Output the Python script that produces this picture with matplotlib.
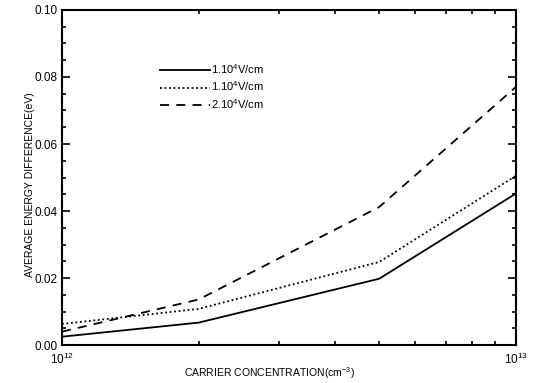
import numpy as np
import matplotlib.pyplot as plt
from matplotlib.ticker import FixedLocator, NullFormatter

plt.rcParams['font.family'] = ['Liberation Sans', 'DejaVu Sans']
plt.rcParams['mathtext.fontset'] = 'custom'
plt.rcParams['mathtext.rm'] = 'Liberation Sans'

# carrier concentration (cm^-3)
conc = [1e12, 2e12, 5e12, 1e13]
# average energy difference (eV) for three fields
e_solid = [0.0025, 0.0067, 0.0198, 0.0452]
e_dotted = [0.0063, 0.0108, 0.0248, 0.0505]
e_dashed = [0.0040, 0.0136, 0.0412, 0.0770]
labels = ["1.10$^4$V/cm", "1.10$^4$V/cm", "2.10$^4$V/cm"]

fig = plt.figure(figsize=(5.39, 3.83), dpi=100)
ax = fig.add_axes([0.115, 0.099, 0.842, 0.875])

ax.plot(conc, e_solid, color="black", lw=1.3, ls="-", label=labels[0])
ax.plot(conc, e_dotted, color="black", lw=1.3, ls=(0, (1, 1.5)), label=labels[1])
ax.plot(conc, e_dashed, color="black", lw=1.3, ls=(0, (5, 4)), label=labels[2])

ax.set_xscale("log")
ax.set_xlim(1e12, 1e13)
ax.set_ylim(0, 0.10)
ax.set_yticks(np.arange(0, 0.101, 0.02))
ax.yaxis.set_minor_locator(FixedLocator(np.arange(0, 0.1001, 0.005)))
ax.set_yticklabels(["0.00", "0.02", "0.04", "0.06", "0.08", "0.10"])
ax.set_xticks([1e12, 1e13])
ax.set_xticklabels(["10$^{12}$", "10$^{13}$"])
ax.xaxis.set_minor_locator(FixedLocator([k * 1e12 for k in range(2, 10)]))
ax.xaxis.set_minor_formatter(NullFormatter())

ax.tick_params(which="both", direction="in", top=True, right=True, width=1.2)
ax.tick_params(which="major", length=6, labelsize=8.5, pad=3)
ax.tick_params(which="minor", length=3)
ax.tick_params(axis="x", which="major", length=0, pad=5, labelsize=8.5)
for s in ax.spines.values():
    s.set_linewidth(1.5)

ax.set_xlabel("CARRIER CONCENTRATION(cm$^{-3}$)", fontsize=7.5)
ax.set_ylabel("AVERAGE ENERGY DIFFERENCE(eV)", fontsize=7.5)
ax.xaxis.set_label_coords(0.458, -0.06)
ax.yaxis.set_label_coords(-0.06, 0.48)

ax.legend(loc="upper left", bbox_to_anchor=(160 / 539, 1 - 62 / 383),
          bbox_transform=fig.transFigure, frameon=False, fontsize=8,
          handlelength=4.5, handletextpad=0.1, labelspacing=0.35,
          borderaxespad=0, borderpad=0)

fig.savefig("out.png", dpi=100)
